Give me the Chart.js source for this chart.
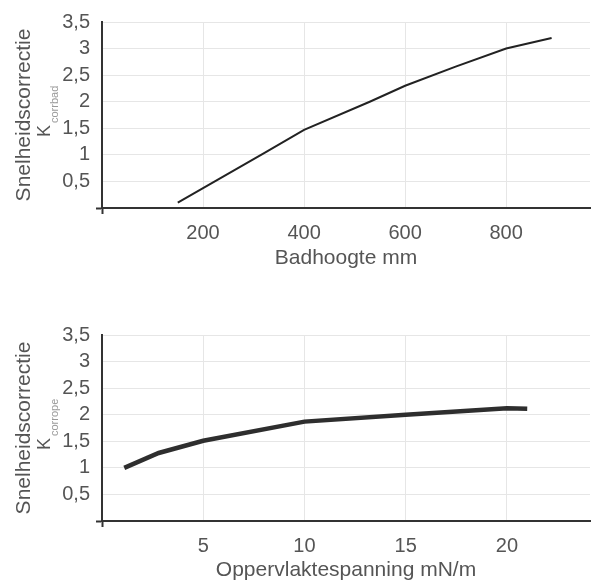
<!DOCTYPE html>
<html>
<head>
<meta charset="utf-8">
<script src="https://cdn.jsdelivr.net/npm/chart.js@4"></script>
<style>
  html, body { margin: 0; padding: 0; background: #fff; }
  #wrap { position: relative; width: 595px; height: 583px; }
  #top { position: absolute; left: 0; top: 0; }
  #bottom { position: absolute; left: 0; top: 303px; }
</style>
</head>
<body>
<div id="wrap">
  <canvas id="top" width="595" height="280"></canvas>
  <canvas id="bottom" width="595" height="280"></canvas>
</div>
<script>
// bovenste grafiek: badhoogte
const bathHeight = [150, 320, 400, 530, 600, 700, 800, 890];
const kCorrBad = [0.1, 1.03, 1.47, 2.0, 2.3, 2.66, 3.0, 3.2];
const bathTicks = [200, 400, 600, 800];

// onderste grafiek: oppervlaktespanning
const surfaceTension = [1.1, 2.8, 5, 10, 15, 20, 21];
const kCorrOpe = [1.0, 1.28, 1.51, 1.87, 2.0, 2.12, 2.11];
const tensionTicks = [5, 10, 15, 20];

const yTicks = [0.5, 1, 1.5, 2, 2.5, 3, 3.5];

const textColor = '#555';
const gridColor = '#e6e6e6';
const axisColor = '#333';
const fontFamily = '"Liberation Sans", Arial, sans-serif';

// K met subscript naast de y-as titel
const kLabel = {
    id: 'kLabel',
    afterDraw(chart, args, opts) {
        const { ctx, chartArea } = chart;
        ctx.save();
        ctx.translate(50, chartArea.top + 115);
        ctx.rotate(-Math.PI / 2);
        ctx.textBaseline = 'alphabetic';
        ctx.textAlign = 'left';
        ctx.fillStyle = textColor;
        ctx.font = '18px ' + fontFamily;
        ctx.fillText('K', 0, 0);
        const w = ctx.measureText('K').width;
        ctx.fillStyle = '#9a9a9a';
        ctx.font = '11px ' + fontFamily;
        ctx.fillText(opts.sub, w + 2, 8);
        ctx.restore();
    }
};

function makeChart(id, xs, ys, xTicks, xMax, xTitle, sub, lineWidth, lineColor, padTop, xHeight, titlePad) {
    const points = xs.map((x, i) => ({ x, y: ys[i] }));
    return new Chart(document.getElementById(id), {
        type: 'line',
        data: {
            datasets: [{
                data: points,
                borderColor: lineColor,
                borderWidth: lineWidth,
                pointRadius: 0,
                tension: 0,
                borderCapStyle: 'butt'
            }]
        },
        options: {
            responsive: false,
            animation: false,
            layout: { padding: { top: padTop, right: 5, left: 0, bottom: 0 } },
            plugins: {
                legend: { display: false },
                tooltip: { enabled: false },
                kLabel: { sub }
            },
            scales: {
                x: {
                    type: 'linear',
                    min: 0,
                    max: xMax,
                    afterFit: s => { s.height = xHeight; s.paddingLeft = 0; s.paddingRight = 0; },
                    afterBuildTicks: s => { s.ticks = [0].concat(xTicks).map(v => ({ value: v })); },
                    ticks: {
                        color: textColor,
                        font: { family: fontFamily, size: 20 },
                        padding: 7,
                        maxRotation: 0,
                        autoSkip: false,
                        callback: v => xTicks.includes(v) ? String(v) : ''
                    },
                    grid: {
                        color: gridColor,
                        tickLength: 6,
                        tickColor: c => c.tick && c.tick.value === 0 ? axisColor : 'rgba(0,0,0,0)',
                        tickWidth: 2
                    },
                    border: { color: axisColor, width: 2 },
                    title: {
                        display: true,
                        text: xTitle,
                        color: textColor,
                        font: { family: fontFamily, size: 21 },
                        padding: { top: 0, bottom: titlePad }
                    }
                },
                y: {
                    min: 0,
                    max: 3.5,
                    afterFit: s => { s.width = 102; s.paddingTop = 0; s.paddingBottom = 0; },
                    afterBuildTicks: s => { s.ticks = [0].concat(yTicks).map(v => ({ value: v })); },
                    ticks: {
                        color: textColor,
                        font: { family: fontFamily, size: 20 },
                        padding: 6,
                        autoSkip: false,
                        callback: v => yTicks.includes(v) ? String(v).replace('.', ',') : ''
                    },
                    grid: {
                        color: gridColor,
                        tickLength: 6,
                        tickColor: c => c.tick && c.tick.value === 0 ? axisColor : 'rgba(0,0,0,0)',
                        tickWidth: 2
                    },
                    border: { color: axisColor, width: 2 },
                    title: {
                        display: true,
                        text: 'Snelheidscorrectie',
                        color: textColor,
                        font: { family: fontFamily, size: 21 },
                        padding: { top: 12, bottom: 0 }
                    }
                }
            }
        },
        plugins: [kLabel]
    });
}

makeChart('top', bathHeight, kCorrBad, bathTicks, 966, 'Badhoogte mm', 'corrbad', 2, '#222', 22, 72, 9);
makeChart('bottom', surfaceTension, kCorrOpe, tensionTicks, 24.1, 'Oppervlaktespanning mN/m', 'corrope', 4.5, '#2e2e2e', 32, 62, 0);
</script>
</body>
</html>
